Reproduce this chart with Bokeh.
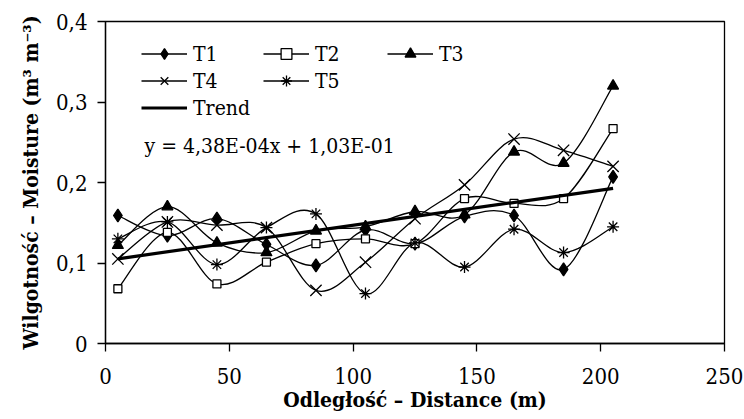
import numpy as np
from bokeh.plotting import figure
from bokeh.models import Legend, LegendItem, FixedTicker, Label, Range1d
from bokeh.embed import file_html
from bokeh.resources import INLINE

# ---- data ----
distance = [5, 25, 45, 65, 85, 105, 125, 145, 165, 185, 205]
t1 = [0.159, 0.134, 0.155, 0.123, 0.097, 0.141, 0.124, 0.158, 0.159, 0.092, 0.207]
t2 = [0.068, 0.138, 0.074, 0.101, 0.124, 0.130, 0.124, 0.180, 0.174, 0.180, 0.267]
t3 = [0.122, 0.170, 0.125, 0.113, 0.140, 0.145, 0.164, 0.160, 0.238, 0.224, 0.320]
t4 = [0.105, 0.151, 0.147, 0.144, 0.066, 0.101, 0.155, 0.197, 0.254, 0.240, 0.220]
t5 = [0.130, 0.151, 0.098, 0.144, 0.161, 0.062, 0.125, 0.095, 0.142, 0.113, 0.145]
series_names = ["T1", "T2", "T3", "T4", "T5"]
trend_slope = 4.38e-4
trend_intercept = 1.03e-1
trend_label = "y = 4,38E-04x + 1,03E-01"
x_ticks = [0, 50, 100, 150, 200, 250]
y_ticks = [0, 0.1, 0.2, 0.3, 0.4]
y_tick_labels = ["0", "0,1", "0,2", "0,3", "0,4"]
x_title = "Odległość – Distance (m)"
y_title = "Wilgotność – Moisture (m³ m⁻³)"

FONT = "DejaVu Serif Condensed"

p = figure(frame_width=619, frame_height=322,
           x_range=Range1d(0, 250), y_range=Range1d(0, 0.4),
           output_backend="svg", toolbar_location=None,
           min_border_left=105, min_border_top=21,
           min_border_right=20, min_border_bottom=76)
p.background_fill_color = "white"
p.border_fill_color = "white"
p.outline_line_color = "black"
p.outline_line_width = 1.3
p.outline_line_alpha = 1
p.xgrid.visible = False
p.ygrid.visible = False

for ax in (p.xaxis[0], p.yaxis[0]):
    ax.axis_line_color = "black"
    ax.axis_line_width = 1.3
    ax.major_tick_line_color = "black"
    ax.major_tick_line_width = 1.3
    ax.major_tick_in = 0
    ax.major_tick_out = 8
    ax.minor_tick_line_color = None
    ax.major_label_text_font = FONT
    ax.major_label_text_font_size = "22px"
    ax.major_label_text_color = "black"
    ax.axis_label_text_font = FONT
    ax.axis_label_text_font_size = "21px"
    ax.axis_label_text_font_style = "bold"
    ax.axis_label_text_color = "black"

p.xaxis.ticker = FixedTicker(ticks=x_ticks)
p.yaxis.ticker = FixedTicker(ticks=y_ticks)
p.yaxis.major_label_overrides = {t: l for t, l in zip(y_ticks, y_tick_labels)}
p.xaxis.axis_label = x_title
p.yaxis.axis_label = y_title
p.xaxis.major_label_standoff = 16
p.xaxis.axis_label_standoff = 0
p.yaxis.major_label_standoff = 10
p.yaxis.axis_label_standoff = 10


def bezier_segments(xs, ys):
    xs = np.asarray(xs, float)
    ys = np.asarray(ys, float)
    n = len(xs)
    x0, y0, x1, y1, cx0, cy0, cx1, cy1 = [], [], [], [], [], [], [], []
    for i in range(n - 1):
        im = max(i - 1, 0)
        ip2 = min(i + 2, n - 1)
        x0.append(xs[i]); y0.append(ys[i])
        x1.append(xs[i + 1]); y1.append(ys[i + 1])
        cx0.append(xs[i] + (xs[i + 1] - xs[im]) / 6)
        cy0.append(ys[i] + (ys[i + 1] - ys[im]) / 6)
        cx1.append(xs[i + 1] - (xs[ip2] - xs[i]) / 6)
        cy1.append(ys[i + 1] - (ys[ip2] - ys[i]) / 6)
    return dict(x0=x0, y0=y0, x1=x1, y1=y1, cx0=cx0, cy0=cy0, cx1=cx1, cy1=cy1)


marker_specs = {
    "T1": dict(marker="diamond", size=13, fill_color="black"),
    "T2": dict(marker="square", size=8, fill_color="white"),
    "T3": dict(marker="triangle", size=11, fill_color="black"),
    "T4": dict(marker="x", size=16, fill_color=None),
    "T5": dict(marker="asterisk", size=12, fill_color=None),
}

renderers = {}
for name, vals in zip(series_names, [t1, t2, t3, t4, t5]):
    seg = bezier_segments(distance, vals)
    br = p.bezier(x0=seg["x0"], y0=seg["y0"], x1=seg["x1"], y1=seg["y1"],
                  cx0=seg["cx0"], cy0=seg["cy0"], cx1=seg["cx1"], cy1=seg["cy1"],
                  line_color="black", line_width=1.3)
    spec = marker_specs[name]
    sr = p.scatter(distance, vals, marker=spec["marker"], size=spec["size"],
                   fill_color=spec["fill_color"], line_color="black", line_width=1.3)
    renderers[name] = [br, sr]

trend_x = [distance[0], distance[-1]]
trend_y = [trend_intercept + trend_slope * x for x in trend_x]
tr = p.line(trend_x, trend_y, line_color="black", line_width=3.2)


def make_legend(items, loc):
    lg = Legend(items=items, location=loc, orientation="vertical",
                glyph_width=46, glyph_height=27, spacing=0, padding=0, margin=0,
                label_standoff=6, label_text_font=FONT, label_text_font_size="21px",
                label_text_color="black", label_height=27,
                border_line_color=None, background_fill_alpha=0)
    p.add_layout(lg, "center")
    return lg


make_legend([LegendItem(label="T1", renderers=renderers["T1"]),
             LegendItem(label="T4", renderers=renderers["T4"]),
             LegendItem(label="Trend", renderers=[tr])], (36, 222))
make_legend([LegendItem(label="T2", renderers=renderers["T2"]),
             LegendItem(label="T5", renderers=renderers["T5"])], (158, 249))
make_legend([LegendItem(label="T3", renderers=renderers["T3"])], (282, 276))

eq = Label(x=39, y=198, x_units="screen", y_units="screen", text=trend_label,
           text_font=FONT, text_font_size="21px", text_color="black",
           text_baseline="middle", text_align="left")
p.add_layout(eq)

open("out.html", "w").write(file_html(p, INLINE))
